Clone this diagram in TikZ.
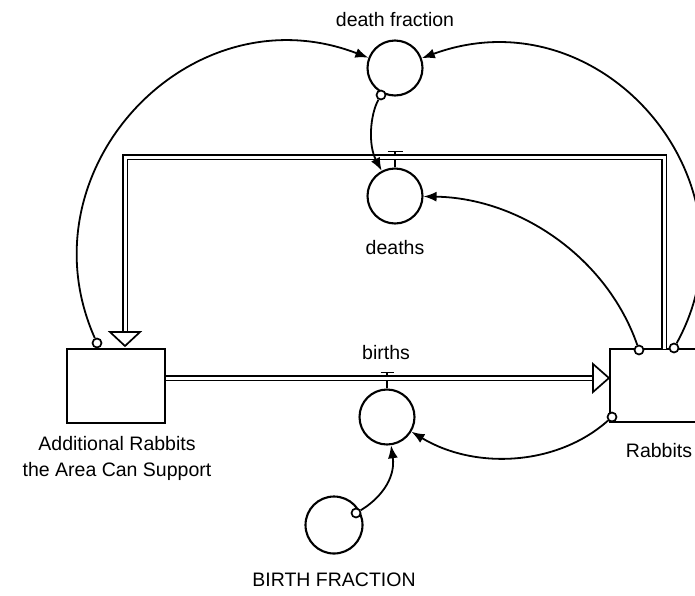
\documentclass[tikz,border=0pt]{standalone}
\usepackage{fontspec}
\setmainfont{Liberation Sans}
\usepackage{tikz}
\usetikzlibrary{arrows.meta,calc}
\tikzset{
  aux/.style={draw=black, circle, line width=2.1pt, minimum size=55pt, inner sep=0pt},
  stock/.style={draw=black, rectangle, line width=2.1pt, minimum width=98pt, minimum height=74pt, inner sep=0pt},
  tail/.style={draw=black, fill=white, circle, line width=1.7pt, minimum size=9pt, inner sep=0pt},
  lbl/.style={font=\fontsize{19.5}{26}\selectfont, align=center, inner sep=0pt},
  link/.style={line width=1.8pt, -{Latex[length=13pt,width=10pt]}},
  pipe/.style={draw=black, line width=1.9pt, double=white, double distance=3pt, line join=miter},
  valve/.style={line width=1.9pt},
  flowhead/.style={draw=black, fill=white, line width=1.7pt, line join=miter}
}

\begin{document}
\begin{tikzpicture}[x=1pt, y=-1pt]
    \useasboundingbox (0,0) rectangle (695,595);

    %Stocks
    \node[stock] (addl) at (116,386) {};
    \node[stock, minimum width=90pt, minimum height=73pt] (rabbits) at (655,385.5) {};

    %Auxiliaries
    \node[aux] (df) at (395,68) {};
    \node[aux] (deaths) at (395,196) {};
    \node[aux] (births) at (387,417) {};
    \node[aux, minimum size=57pt] (bf) at (334,525) {};

    %Labels
    \node[lbl] (dflbl) at (395,19.5) {death fraction};
    \node[lbl] (deathslbl) at (395,248) {deaths};
    \node[lbl] (birthslbl) at (386,352.5) {births};
    \node[lbl] (addllbl) at (117,458) {Additional Rabbits\\the Area Can Support};
    \node[lbl] (rabbitslbl) at (659,450.5) {Rabbits};
    \node[lbl] (bflbl) at (334,580) {BIRTH FRACTION};

    %Points for the flows
    \coordinate (bin) at (593,378);
    \coordinate (dout) at (125,332);
    \coordinate (dtop) at (664,349);
    \coordinate (dvalve) at (395,157);

    % Valves
    \draw[valve] (births.north) -- ++(0,-16) ++(-6.5,0) -- ++(13,0);
    \draw[valve] (deaths.north) -- ++(0,-16) ++(-7.5,0) -- ++(15,0);

    % Flows
    \draw[pipe] (addl.east |- bin) -- (bin);
    \draw[pipe] (dtop) |- (dvalve) -| (dout);
    \draw[flowhead] (bin) ++(0,-14) -- (rabbits.west |- bin) -- ($(bin)+(0,14)$) -- cycle;
    \draw[flowhead] (dout) ++(-15,0) -- ++(15,14) -- ++(15,-14) -- cycle;

    % Tails
    \node[tail] (tdf) at (381,95) {};
    \node[tail] (taddl) at (97,343) {};
    \node[tail] (trab1) at (639,350) {};
    \node[tail] (trab2) at (674,348) {};
    \node[tail] (trab3) at (612,417) {};
    \node[tail] (tbf) at (356,513) {};

    % Links
    \draw[link] (taddl) .. controls (20,170) and (190,-11) .. (df);
    \draw[link] (trab2) .. controls (765,183) and (602,-8) .. (df);
    \draw[link] (trab1) .. controls (607,258) and (520,198) .. (deaths);
    \draw[link] (trab3) .. controls (557,466) and (475,470) .. (births);
    \draw[link] (tbf) .. controls (378,500) and (396,480) .. (births);
    \draw[link] (tdf) .. controls (370,115) and (368,145) .. (deaths);
\end{tikzpicture}
\end{document}
